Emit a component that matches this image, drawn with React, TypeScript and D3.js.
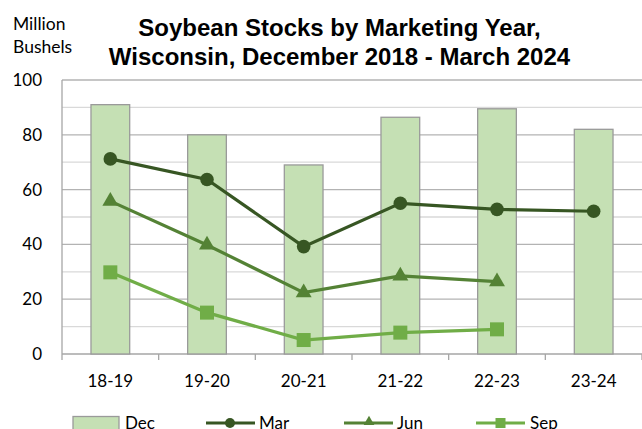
import React from "react";
import * as d3 from "d3";

const categories = ["18-19", "19-20", "20-21", "21-22", "22-23", "23-24"];
const decValues = [91, 80, 69, 86.4, 89.5, 82];
const marValues = [71.2, 63.7, 39.2, 55, 52.8, 52.1];
const junValues = [55.8, 39.8, 22.4, 28.5, 26.4];
const sepValues = [29.8, 15.1, 5.1, 7.8, 9.0];
const yTicks = [0, 20, 40, 60, 80, 100];
const titleLines = ["Soybean Stocks by Marketing Year,", "Wisconsin, December 2018 - March 2024"];

const W = 642, H = 429;
const left = 62, right = 642, top = 80, bottom = 354;
const font = "Lato, 'Open Sans', sans-serif";
const cDec = "#c5e0b4", cMar = "#375623", cJun = "#548235", cSep = "#70ad47";

export default function App() {
  const xb = d3.scaleBand<string>().domain(categories).range([left, right]);
  const y = d3.scaleLinear().domain([0, 100]).range([bottom, top]);
  const cx = (i: number) => (xb(categories[i]) as number) + xb.bandwidth() / 2;
  const line = d3.line<number>().x((_, i) => cx(i)).y((v) => y(v));
  const grid = d3.range(10, 101, 10);
  const tri = d3.symbol().type(d3.symbolTriangle).size(110)();
  const bw = 38.7;
  return (
    <svg width={W} height={H} style={{ position: "absolute", left: 0, top: 0, background: "#fff" }}>
      <text x={13} y={30} fontFamily={font} fontSize={17.5} fill="#000">Million</text>
      <text x={13} y={52.5} fontFamily={font} fontSize={17.5} fill="#000">Bushels</text>
      {titleLines.map((t, i) => (
        <text key={i} x={339.5} y={35.5 + i * 29} textAnchor="middle" fontFamily="'Liberation Sans', Arial, sans-serif" fontWeight="bold" fontSize={24} fill="#000">{t}</text>
      ))}
      {grid.map((g) => (
        <line key={g} x1={left} x2={right} y1={y(g)} y2={y(g)} stroke={g % 20 === 0 ? "#b3b3b3" : "#d9d9d9"} strokeWidth={1.3} />
      ))}
      <line x1={left} x2={left} y1={top} y2={bottom} stroke="#a6a6a6" strokeWidth={1.3} />
      <line x1={left} x2={right} y1={bottom} y2={bottom} stroke="#a6a6a6" strokeWidth={1.3} />
      {d3.range(0, categories.length + 1).map((i) => (
        <line key={i} x1={left + i * xb.bandwidth()} x2={left + i * xb.bandwidth()} y1={bottom} y2={bottom + 6} stroke="#a6a6a6" strokeWidth={1.3} />
      ))}
      {yTicks.map((t) => (
        <text key={t} x={42} y={y(t) + 6} textAnchor="end" fontFamily={font} fontSize={17} fill="#000">{t}</text>
      ))}
      {categories.map((c, i) => (
        <text key={c} x={cx(i)} y={387} textAnchor="middle" fontFamily={font} fontSize={17} fill="#000">{c}</text>
      ))}
      {decValues.map((v, i) => (
        <rect key={i} x={cx(i) - bw / 2} y={y(v)} width={bw} height={bottom - y(v)} fill={cDec} stroke="#9a9a9a" strokeWidth={1.3} />
      ))}
      <path d={line(marValues) || ""} fill="none" stroke={cMar} strokeWidth={3.2} />
      <path d={line(junValues) || ""} fill="none" stroke={cJun} strokeWidth={3.2} />
      <path d={line(sepValues) || ""} fill="none" stroke={cSep} strokeWidth={3.2} />
      {marValues.map((v, i) => (
        <circle key={i} cx={cx(i)} cy={y(v)} r={6.8} fill={cMar} />
      ))}
      {junValues.map((v, i) => (
        <path key={i} d={tri || ""} transform={`translate(${cx(i)},${y(v)})`} fill={cJun} />
      ))}
      {sepValues.map((v, i) => (
        <rect key={i} x={cx(i) - 7} y={y(v) - 7} width={14} height={14} fill={cSep} />
      ))}
      <g>
        <rect x={73} y={416.5} width={46} height={14} fill={cDec} stroke="#9a9a9a" strokeWidth={1.3} />
        <text x={125} y={428.5} fontFamily={font} fontSize={17}>Dec</text>
        <line x1={206} x2={255} y1={423} y2={423} stroke={cMar} strokeWidth={3.2} />
        <circle cx={230} cy={423} r={5} fill={cMar} />
        <text x={259} y={428.5} fontFamily={font} fontSize={17}>Mar</text>
        <line x1={344} x2={393} y1={423} y2={423} stroke={cJun} strokeWidth={3.2} />
        <path d={d3.symbol().type(d3.symbolTriangle).size(50)() || ""} transform="translate(369,422)" fill={cJun} />
        <text x={397} y={428.5} fontFamily={font} fontSize={17}>Jun</text>
        <line x1={476} x2={525} y1={423} y2={423} stroke={cSep} strokeWidth={3.2} />
        <rect x={495.5} y={418} width={10} height={10} fill={cSep} />
        <text x={530} y={428.5} fontFamily={font} fontSize={17}>Sep</text>
      </g>
    </svg>
  );
}
